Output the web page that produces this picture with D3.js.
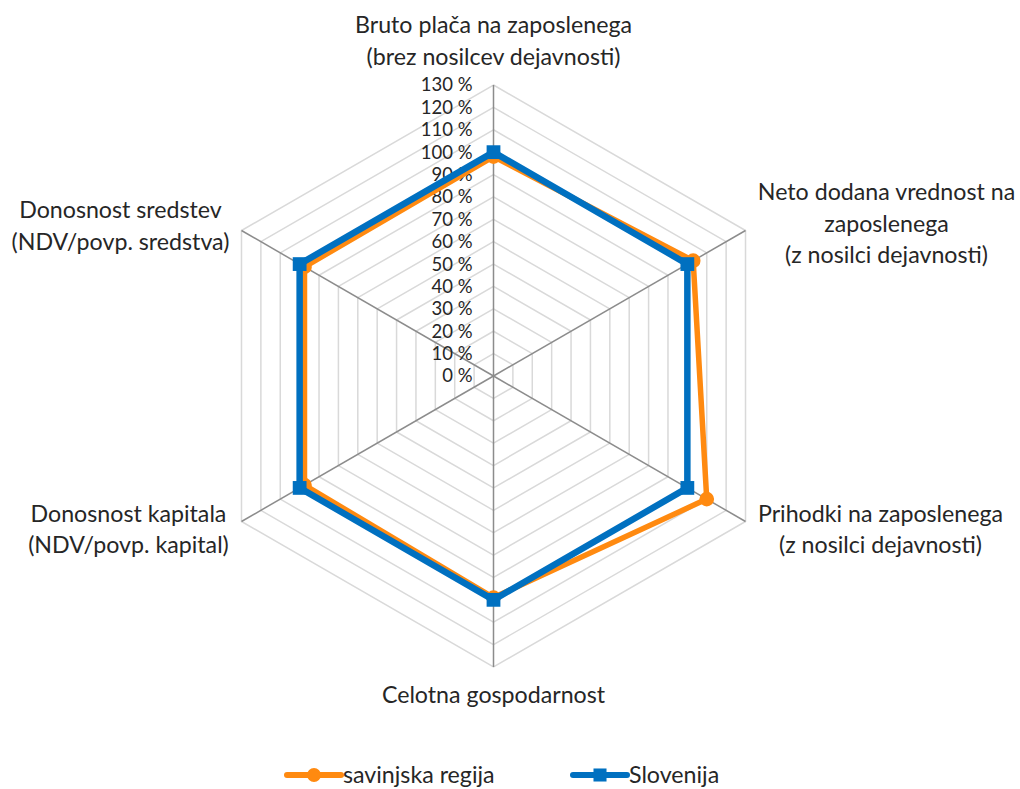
<!DOCTYPE html>
<html>
<head>
<meta charset="utf-8">
<script src="https://cdn.jsdelivr.net/npm/d3@7"></script>
<style>
  html, body { margin: 0; padding: 0; background: #fff; }
  svg { display: block; }
  text { font-family: Lato, "Open Sans", sans-serif; fill: #262626; }
</style>
</head>
<body>
<svg id="chart" width="1020" height="789"></svg>
<script>
// ---- data ----
const categories = [
  ["Bruto plača na zaposlenega", "(brez nosilcev dejavnosti)"],
  ["Neto dodana vrednost na", "zaposlenega", "(z nosilci dejavnosti)"],
  ["Prihodki na zaposlenega", "(z nosilci dejavnosti)"],
  ["Celotna gospodarnost"],
  ["Donosnost kapitala", "(NDV/povp. kapital)"],
  ["Donosnost sredstev", "(NDV/povp. sredstva)"]
];
const seriesNames = ["savinjska regija", "Slovenija"];
const savinjska = [98, 103, 110, 99, 97.5, 97.5];
const slovenija = [100, 100, 100, 100, 100, 100];
const tickValues = [0, 10, 20, 30, 40, 50, 60, 70, 80, 90, 100, 110, 120, 130];
const tickLabels = tickValues.map(v => v + " %");

// ---- layout ----
const cx = 493.5, cy = 376, R = 291;
const colors = { orange: "#FF8A10", blue: "#0070C0" };
const r = d3.scaleLinear().domain([0, 130]).range([0, R]);
const n = categories.length;
const angle = i => (i / n) * 2 * Math.PI; // 0 = up, clockwise
const pt = (i, v) => [cx + r(v) * Math.sin(angle(i)), cy - r(v) * Math.cos(angle(i))];
const labelSize = 23.2, tickSize = 18.5;

// label placement relative to each axis end vertex (layout only)
const labelLayout = [
  { dx: 0,    dys: [-52, -20] },
  { dx: 141,  dys: [-30.5, 1.5, 32.5] },
  { dx: 135,  dys: [0.5, 31.5] },
  { dx: 0,    dys: [36] },
  { dx: -113, dys: [0.5, 31] },
  { dx: -121, dys: [-12.5, 19.5] }
];

const svg = d3.select("#chart");
const g = svg.append("g");

// grid rings
const ringLine = d3.line();
tickValues.filter(v => v > 0).forEach(v => {
  const pts = d3.range(n).map(i => pt(i, v));
  g.append("path")
    .attr("d", ringLine(pts) + "Z")
    .attr("fill", "none")
    .attr("stroke", "#d9d9d9")
    .attr("stroke-width", 1.5);
});

// spokes
d3.range(n).forEach(i => {
  const [x, y] = pt(i, 130);
  g.append("line")
    .attr("x1", cx).attr("y1", cy).attr("x2", x).attr("y2", y)
    .attr("stroke", "#8c8c8c").attr("stroke-width", 1.5);
});

// tick labels
g.selectAll("text.tick").data(tickValues).enter().append("text")
  .attr("class", "tick")
  .attr("x", cx - 21)
  .attr("y", d => cy - r(d))
  .attr("dy", "0.35em")
  .attr("text-anchor", "end")
  .attr("font-size", tickSize)
  .text((d, i) => tickLabels[i]);

// category labels
categories.forEach((lines, i) => {
  const [vx, vy] = pt(i, 130);
  const lay = labelLayout[i];
  lines.forEach((ln, k) => {
    g.append("text")
      .attr("x", vx + lay.dx)
      .attr("y", vy + lay.dys[k])
      .attr("text-anchor", "middle")
      .attr("font-size", labelSize)
      .text(ln);
  });
});

// series
const seriesLine = d3.line();
function drawSeries(vals, color, width, marker) {
  const pts = vals.map((v, i) => pt(i, v));
  g.append("path")
    .attr("d", seriesLine(pts) + "Z")
    .attr("fill", "none")
    .attr("stroke", color)
    .attr("stroke-width", width)
    .attr("stroke-linejoin", "round");
  const sym = d3.symbol().type(marker === "circle" ? d3.symbolCircle : d3.symbolSquare)
    .size(marker === "circle" ? 170 : 190);
  g.selectAll(null).data(pts).enter().append("path")
    .attr("d", sym)
    .attr("transform", d => `translate(${d[0]},${d[1]})`)
    .attr("fill", color);
}
drawSeries(savinjska, colors.orange, 5.5, "circle");
drawSeries(slovenija, colors.blue, 6.5, "square");

// legend
const legend = [
  { name: seriesNames[0], color: colors.orange, marker: "circle", x: 287 },
  { name: seriesNames[1], color: colors.blue, marker: "square", x: 573 }
];
const ly = 775;
legend.forEach(L => {
  svg.append("line")
    .attr("x1", L.x).attr("x2", L.x + 54).attr("y1", ly).attr("y2", ly)
    .attr("stroke", L.color).attr("stroke-width", 6).attr("stroke-linecap", "round");
  svg.append("path")
    .attr("d", d3.symbol().type(L.marker === "circle" ? d3.symbolCircle : d3.symbolSquare)
      .size(L.marker === "circle" ? 150 : 170))
    .attr("transform", `translate(${L.x + 27},${ly})`)
    .attr("fill", L.color);
  svg.append("text")
    .attr("x", L.x + 56).attr("y", ly).attr("dy", "0.35em")
    .attr("font-size", labelSize)
    .text(L.name);
});
</script>
</body>
</html>
